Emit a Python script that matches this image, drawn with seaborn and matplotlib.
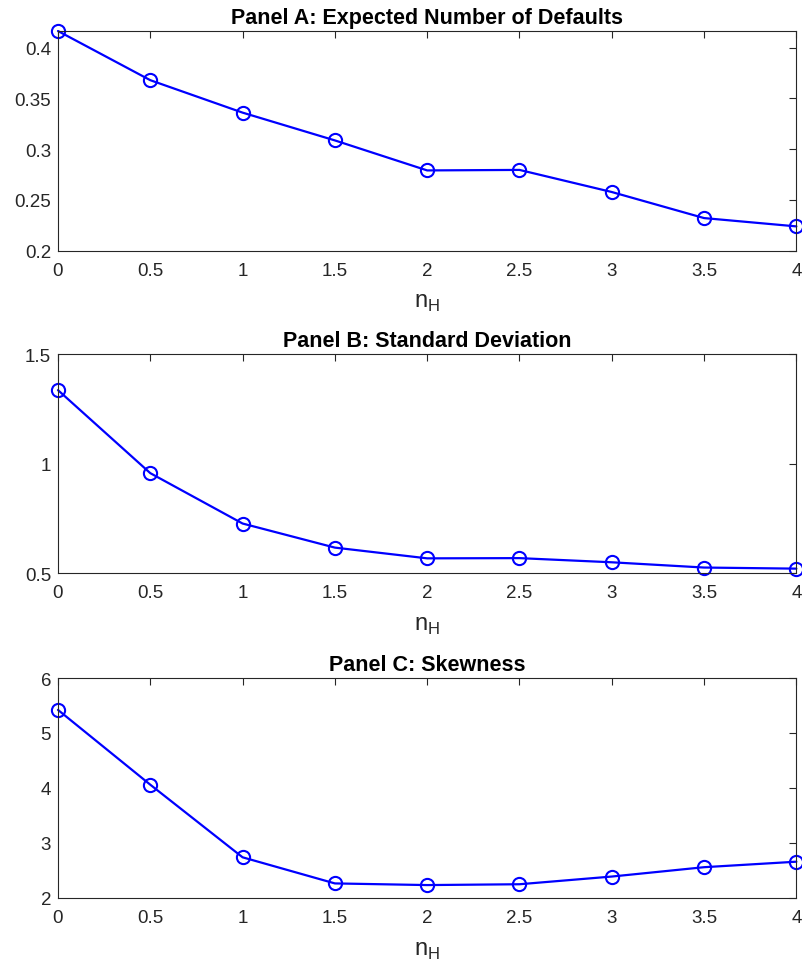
#!/usr/bin/env python3
"""Moments of the default distribution vs n_H (three panels)."""
import numpy as np, pandas as pd
import matplotlib
matplotlib.use('Agg')
import matplotlib.pyplot as plt
import matplotlib.ticker as mticker
import seaborn as sns

n_h = [0, 0.5, 1, 1.5, 2, 2.5, 3, 3.5, 4]
expected_defaults = [0.4165, 0.368, 0.336, 0.3086, 0.279, 0.2795, 0.2577, 0.232, 0.2238]
std_dev = [1.336, 0.957, 0.727, 0.617, 0.568, 0.569, 0.550, 0.526, 0.521]
skewness = [5.42, 4.06, 2.74, 2.265, 2.235, 2.25, 2.39, 2.56, 2.66]

titles = ['Panel A: Expected Number of Defaults',
          'Panel B: Standard Deviation',
          'Panel C: Skewness']
y_limits = [(0.2, 0.4165), (0.5, 1.5), (2, 6)]
y_ticks = [[0.2, 0.25, 0.3, 0.35, 0.4], [0.5, 1, 1.5], [2, 3, 4, 5, 6]]
x_ticks = n_h

sns.set_style('white')
plt.rcParams['font.family'] = ['Liberation Sans', 'DejaVu Sans']
plt.rcParams['mathtext.fontset'] = 'custom'
plt.rcParams['mathtext.rm'] = 'Liberation Sans'

AX_COLOR = '#262626'

fig = plt.figure(figsize=(8.02, 9.70), dpi=100)
# axes boxes in figure fractions: left, bottom, width, height
boxes = [(0.0723, 0.7407, 0.9207, 0.2263),
         (0.0723, 0.408, 0.9207, 0.2258),
         (0.0723, 0.0732, 0.9207, 0.2268)]

series = [expected_defaults, std_dev, skewness]
for box, vals, title, ylim, yt in zip(boxes, series, titles, y_limits, y_ticks):
    ax = fig.add_axes(box)
    df = pd.DataFrame({'n_H': n_h, 'value': vals})
    sns.lineplot(data=df, x='n_H', y='value', ax=ax, color='#0000ff',
                 linewidth=1.6, marker='o', markersize=9.5,
                 markerfacecolor='none', markeredgecolor='#0000ff',
                 markeredgewidth=1.5, clip_on=False)
    ax.set_xlim(0, 4)
    ax.set_ylim(*ylim)
    ax.set_xticks(x_ticks)
    ax.set_yticks(yt)
    fmt = mticker.FuncFormatter(lambda v, p: f'{v:g}')
    ax.xaxis.set_major_formatter(fmt)
    ax.yaxis.set_major_formatter(fmt)
    ax.tick_params(direction='in', length=5, width=0.8, top=True, right=True,
                   colors=AX_COLOR, labelsize=13.5, labelcolor=AX_COLOR)
    ax.tick_params(axis='x', pad=8)
    ax.tick_params(axis='y', pad=5)
    for sp in ax.spines.values():
        sp.set_visible(True)
        sp.set_color(AX_COLOR)
        sp.set_linewidth(0.8)
    ax.set_title(title, fontsize=15.5, fontweight='bold', pad=6, color='black')
    ax.set_xlabel(r'n$_\mathregular{H}$', fontsize=17, color=AX_COLOR, labelpad=9)
    ax.set_ylabel('')

plt.savefig('out.png', dpi=100)
plt.close()
